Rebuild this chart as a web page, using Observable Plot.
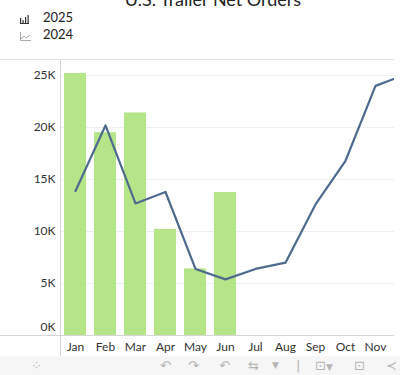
<!DOCTYPE html>
<html>
<head>
<meta charset="utf-8">
<script src="https://cdn.jsdelivr.net/npm/d3@7"></script>
<script src="https://cdn.jsdelivr.net/npm/@observablehq/plot@0.6"></script>
<style>
  html, body { margin: 0; padding: 0; background: #fff; }
  #wrap { position: relative; width: 400px; height: 375px; overflow: hidden; font-family: Lato, "Open Sans", sans-serif; color: #333; }
  #title { position: absolute; left: 0; width: 426px; top: -11px; line-height: 20px; font-size: 18px; text-align: center; color: #222; white-space: nowrap; }
  .leg { position: absolute; left: 20px; font-size: 13px; line-height: 16px; color: #222; }
  .leg .ic { display: inline-block; width: 9px; height: 8px; margin-right: 14px; vertical-align: -1px; position: relative; }
  #plot { position: absolute; left: 0; top: 0; width: 394px; height: 356px; overflow: hidden; }
  #plot svg { max-width: none !important; }
  .hline { position: absolute; height: 1px; background: #e3e3e3; }
  .vline { position: absolute; width: 1px; background: #e3e3e3; }
  #toolbar { position: absolute; left: 0; top: 356px; width: 400px; height: 19px; background: #f6f6f6; color: #b5b5b5; font-size: 13px; line-height: 19px; font-family: "DejaVu Sans", sans-serif; }
  #toolbar span { position: absolute; top: 0; }
</style>
</head>
<body>
<div id="wrap">
  <div id="title">U.S. Trailer Net Orders</div>
  <div class="leg" style="top:9px"><span class="ic" id="icBar"></span>2025</div>
  <div class="leg" style="top:26px"><span class="ic" id="icLine"></span>2024</div>
  <div class="hline" style="left:0;top:59px;width:394px"></div>
  <div id="plot"></div>
  <div class="hline" style="left:0;top:335px;width:394px;background:#d6d6d6"></div>
  <div class="vline" style="left:60px;top:60px;height:296px;background:#d6d6d6"></div>
  <div id="toolbar">
    <span style="left:31px">⁘</span>
    <span style="left:160px">↶</span>
    <span style="left:188px">↷</span>
    <span style="left:219px">↶</span>
    <span style="left:248px">⇆</span>
    <span style="left:272px;font-size:9px">▼</span>
    <span style="left:296px">|</span>
    <span style="left:315px">⊡<span style="font-size:9px;position:static">▼</span></span>
    <span style="left:354px">⊡</span>
    <span style="left:386px">≺</span>
  </div>
</div>
<script>
const months = ["Jan","Feb","Mar","Apr","May","Jun","Jul","Aug","Sep","Oct","Nov","Dec"];
const visibleMonthLabels = ["Jan","Feb","Mar","Apr","May","Jun","Jul","Aug","Sep","Oct","Nov"];
const orders2025 = [25200, 19500, 21400, 10200, 6400, 13750];
const orders2024 = [13900, 20200, 12700, 13800, 6400, 5400, 6400, 7000, 12600, 16800, 24000, 25100];
const yTicks = [5000, 10000, 15000, 20000, 25000];

const barColor = "#b4e589";
const lineColor = "#4e6b8e";

const bars = orders2025.map((v, i) => ({month: months[i], value: v}));
const line = orders2024.map((v, i) => ({month: months[i], value: v}));

// legend icons (decorative only)
document.getElementById("icBar").innerHTML =
  '<svg width="10" height="9" style="position:absolute;left:0;top:0"><g fill="#333"><rect x="0" y="3" width="1.2" height="5"/><rect x="2.5" y="5" width="1.2" height="3"/><rect x="5" y="2" width="1.2" height="6"/><rect x="7.5" y="0" width="1.2" height="8"/><rect x="0" y="8" width="9" height="1"/></g></svg>';
document.getElementById("icLine").innerHTML =
  '<svg width="11" height="9" style="position:absolute;left:0;top:0"><polyline points="0.5,0 0.5,8.5 11,8.5" fill="none" stroke="#aaa" stroke-width="1"/><polyline points="1,7 4,4 6,6 10,3" fill="none" stroke="#aaa" stroke-width="1"/></svg>';

const chart = Plot.plot({
  width: 430,
  height: 356,
  marginLeft: 60,
  marginRight: 10,
  marginTop: 75,
  marginBottom: 21,
  style: {fontFamily: "Lato, 'Open Sans', sans-serif", fontSize: "12px", color: "#333", background: "transparent", maxWidth: "none"},
  x: {domain: months, paddingInner: 0.27, paddingOuter: 0.135},
  y: {domain: [0, 25000]},
  marks: [
    Plot.gridY(yTicks, {stroke: "#efefef", strokeOpacity: 1}),
    Plot.barY(bars, {x: "month", y: "value", fill: barColor}),
    Plot.line(line, {x: "month", y: "value", stroke: lineColor, strokeWidth: 2.2}),
    Plot.axisX(visibleMonthLabels, {tickSize: 0, tickPadding: 7, fill: "#333", label: null, fontSize: 12}),
    Plot.axisY(yTicks, {tickSize: 0, tickPadding: 5, tickFormat: d => d / 1000 + "K", fill: "#333", label: null, fontSize: 12}),
    Plot.text([0], {y: d => d, frameAnchor: "left", text: d => d / 1000 + "K", textAnchor: "end", dx: -5, dy: -8, fill: "#333", fontSize: 12})
  ]
});
document.getElementById("plot").appendChild(chart);
</script>
</body>
</html>
